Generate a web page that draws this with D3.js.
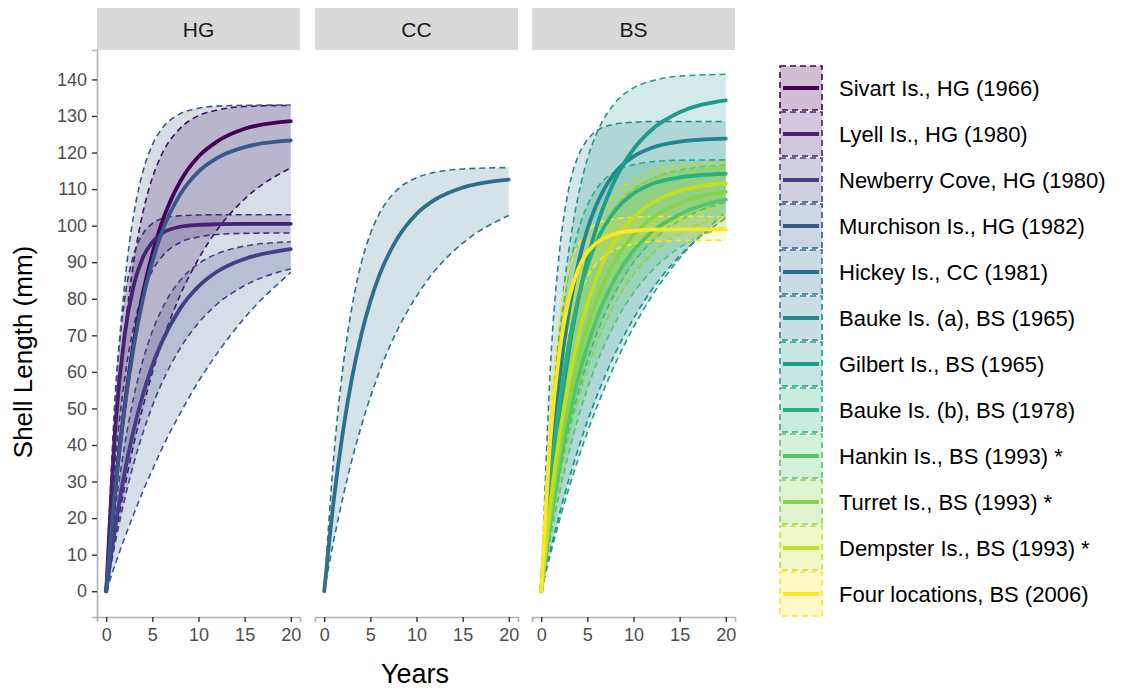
<!DOCTYPE html>
<html>
<head>
<meta charset="utf-8">
<title>Shell growth</title>
<script src="https://d3js.org/d3.v7.min.js"></script>
<style>
    body { margin: 0; background: #ffffff; }
    svg { font-family: "Liberation Sans", Arial, sans-serif; }
</style>
</head>
<body>
<svg id="chart" width="1123" height="688"></svg>
<script>
var ages = [0, 1, 2, 3, 4, 5, 6, 8, 10, 12, 15, 20]
var panels = ["HG", "CC", "BS"]
var sites = [
    "Sivart Is., HG (1966)", "Lyell Is., HG (1980)", "Newberry Cove, HG (1980)",
    "Murchison Is., HG (1982)", "Hickey Is., CC (1981)", "Bauke Is. (a), BS (1965)",
    "Gilbert Is., BS (1965)", "Bauke Is. (b), BS (1978)", "Hankin Is., BS (1993) *",
    "Turret Is., BS (1993) *", "Dempster Is., BS (1993) *", "Four locations, BS (2006)"
]
var sitePanel = ["HG", "HG", "HG", "HG", "CC", "BS", "BS", "BS", "BS", "BS", "BS", "BS"]

// shell length (mm), one row per site, one value per age
var meanLen = [
    [0, 28.6, 50.9, 68.4, 81.8, 92.3, 100.6, 112.0, 118.9, 123.0, 126.5, 128.6],
    [0, 45.3, 70.2, 83.9, 91.4, 95.5, 97.8, 99.7, 100.2, 100.4, 100.5, 100.5],
    [0, 18.0, 32.6, 44.4, 54.0, 61.8, 68.0, 77.3, 83.4, 87.4, 90.9, 93.6],
    [0, 28.4, 50.2, 67.2, 80.2, 90.1, 98.0, 108.5, 114.8, 118.5, 121.5, 123.3],
    [0, 24.2, 43.2, 58.2, 70.0, 79.3, 86.6, 96.8, 103.2, 107.1, 110.4, 112.6],
    [0, 34.0, 58.7, 76.5, 89.5, 99.0, 105.8, 114.5, 118.9, 121.3, 123.0, 123.8],
    [0, 26.8, 48.4, 65.7, 79.6, 90.7, 99.7, 112.6, 120.9, 126.3, 131.0, 134.3],
    [0, 29.7, 51.6, 67.9, 80.0, 89.0, 95.6, 104.1, 108.8, 111.4, 113.2, 114.2],
    [0, 18.9, 34.6, 47.5, 58.3, 67.1, 74.5, 85.5, 93.1, 98.3, 103.1, 107.1],
    [0, 21.0, 38.1, 51.8, 63.0, 72.2, 79.5, 90.4, 97.5, 102.1, 106.2, 109.3],
    [0, 24.0, 42.9, 57.7, 69.4, 78.6, 85.8, 96.0, 102.3, 106.2, 109.5, 111.6],
    [0, 41.9, 66.0, 80.0, 88.0, 92.7, 95.3, 97.8, 98.6, 98.9, 99.0, 99.0]
]
var lowLen = [
    [0, 15.3, 28.6, 40.4, 50.6, 59.8, 67.8, 80.9, 90.9, 98.8, 107.3, 115.8],
    [0, 35.5, 58.1, 72.6, 81.8, 87.7, 91.4, 95.4, 96.9, 97.6, 97.9, 98.0],
    [0, 13.6, 25.2, 35.1, 43.5, 50.7, 56.8, 66.4, 73.4, 78.5, 83.6, 88.2],
    [0, 7.6, 14.6, 21.2, 27.5, 33.2, 38.8, 48.6, 57.4, 65.0, 74.8, 87.2],
    [0, 13.5, 25.4, 35.9, 45.0, 53.1, 60.2, 71.8, 80.7, 87.7, 95.2, 102.8],
    [0, 11.2, 21.4, 30.6, 38.9, 46.4, 53.2, 65.0, 74.6, 82.5, 91.7, 102.1],
    [0, 10.2, 19.6, 28.2, 36.2, 43.5, 50.2, 62.1, 72.2, 80.8, 91.1, 103.7],
    [0, 17.2, 31.7, 44.0, 54.2, 63.0, 70.3, 81.7, 89.9, 95.7, 101.4, 106.4],
    [0, 14.6, 27.2, 38.0, 47.4, 55.4, 62.3, 73.4, 81.6, 87.7, 94.0, 99.8],
    [0, 16.5, 30.5, 42.4, 52.3, 60.7, 67.7, 78.8, 86.6, 92.2, 97.7, 102.5],
    [0, 19.4, 35.3, 48.3, 59.0, 67.6, 74.8, 85.4, 92.6, 97.3, 101.7, 105.1],
    [0, 34.8, 56.9, 71.1, 80.2, 85.9, 89.6, 93.4, 94.9, 95.6, 95.9, 96.0]
]
var highLen = [
    [0, 42.0, 70.8, 90.4, 103.9, 113.1, 119.4, 126.6, 130.1, 131.6, 132.6, 132.9],
    [0, 54.4, 80.0, 92.2, 97.9, 100.6, 101.9, 102.7, 102.9, 103.0, 103.0, 103.0],
    [0, 22.8, 40.0, 53.3, 63.4, 71.1, 77.0, 85.0, 89.6, 92.3, 94.4, 95.6],
    [0, 52.3, 84.1, 103.3, 115.0, 122.1, 126.4, 130.6, 132.1, 132.7, 132.9, 133.0],
    [0, 35.8, 60.7, 77.7, 89.6, 97.8, 103.4, 110.0, 113.1, 114.6, 115.5, 115.9],
    [0, 61.4, 93.4, 110.3, 119.0, 123.5, 125.9, 127.8, 128.3, 128.5, 128.5, 128.5],
    [0, 42.7, 72.6, 93.4, 108.0, 118.2, 125.2, 133.6, 137.7, 139.6, 140.9, 141.4],
    [0, 42.7, 70.0, 87.4, 98.5, 105.6, 110.1, 114.8, 116.7, 117.5, 117.9, 118.0],
    [0, 28.5, 50.2, 66.5, 78.9, 88.1, 95.2, 104.6, 109.9, 112.9, 115.2, 116.6],
    [0, 30.0, 52.3, 68.8, 81.1, 90.1, 96.9, 105.4, 110.2, 112.9, 114.7, 115.7],
    [0, 32.2, 55.6, 72.5, 84.8, 93.8, 100.2, 108.5, 112.7, 115.0, 116.5, 117.3],
    [0, 49.0, 74.5, 87.9, 94.9, 98.5, 100.5, 101.9, 102.3, 102.5, 102.5, 102.5]
]
var xTicks = [0, 5, 10, 15, 20]
var yTicks = d3.range(0, 141, 10)

var svg = d3.select("#chart")

var panelLeft = [97, 315, 532]
var panelW = 203
var panelTop = 50, panelBottom = 617

var color = d3.scaleOrdinal()
    .domain(sites)
    .range(sites.map(function(d, i) { return d3.interpolateViridis(i / (sites.length - 1)) }))

var y = d3.scaleLinear().domain([-7.05, 148.05]).range([panelBottom, panelTop])

var dash = "6,4"
var tickFont = 18

panels.forEach(function(p, pi) {
    var x = d3.scaleLinear().domain([-1, 21]).range([panelLeft[pi], panelLeft[pi] + panelW])

    // strip
    svg.append("rect")
        .attr("x", panelLeft[pi]).attr("y", 8)
        .attr("width", panelW).attr("height", 42)
        .attr("fill", "#d9d9d9")
    svg.append("text")
        .attr("x", panelLeft[pi] + panelW / 2).attr("y", 37)
        .attr("text-anchor", "middle")
        .attr("font-size", 21)
        .attr("fill", "#1a1a1a")
        .text(p)

    var g = svg.append("g")
    var idx = d3.range(sites.length).filter(function(i) { return sitePanel[i] == p })

    var area = d3.area()
        .x(function(d, j) { return x(ages[j]) })
        .y0(function(d) { return y(d[0]) })
        .y1(function(d) { return y(d[1]) })
        .curve(d3.curveMonotoneX)
    var line = d3.line()
        .x(function(d, j) { return x(ages[j]) })
        .y(function(d) { return y(d) })
        .curve(d3.curveMonotoneX)

    idx.forEach(function(i) {
        var band = lowLen[i].map(function(v, j) { return [v, highLen[i][j]] })
        g.append("path")
            .attr("d", area(band))
            .attr("fill", color(sites[i]))
            .attr("fill-opacity", 0.2)
        ;[lowLen[i], highLen[i]].forEach(function(edge) {
            g.append("path")
                .attr("d", line(edge))
                .attr("fill", "none")
                .attr("stroke", color(sites[i]))
                .attr("stroke-width", 1.6)
                .attr("stroke-dasharray", dash)
        })
    })
    idx.forEach(function(i) {
        g.append("path")
            .attr("d", line(meanLen[i]))
            .attr("fill", "none")
            .attr("stroke", color(sites[i]))
            .attr("stroke-width", 3.8)
            .attr("stroke-linecap", "round")
    })

    // x axis
    var xa = svg.append("g")
        .attr("transform", "translate(0," + panelBottom + ")")
        .call(d3.axisBottom(x).tickValues(xTicks).tickSize(5).tickPadding(6))
    xa.select(".domain").attr("stroke", "#b0b0b0").attr("stroke-width", 1.6)
    xa.selectAll(".tick line").attr("stroke", "#333333").attr("stroke-width", 1.4)
    xa.selectAll(".tick text").attr("fill", "#4d4d4d").attr("font-size", tickFont)
        .attr("font-family", "Liberation Sans, Arial, sans-serif")

    if (pi == 0) {
        var ya = svg.append("g")
            .attr("transform", "translate(" + panelLeft[0] + ",0)")
            .call(d3.axisLeft(y).tickValues(yTicks).tickSize(5).tickPadding(5))
        ya.select(".domain").attr("stroke", "#b0b0b0").attr("stroke-width", 1.6)
        ya.selectAll(".tick line").attr("stroke", "#333333").attr("stroke-width", 1.4)
        ya.selectAll(".tick text").attr("fill", "#4d4d4d").attr("font-size", tickFont)
            .attr("font-family", "Liberation Sans, Arial, sans-serif")
    }
})

// axis titles
svg.append("text")
    .attr("transform", "translate(32,352) rotate(-90)")
    .attr("text-anchor", "middle")
    .attr("font-size", 26)
    .attr("fill", "#000")
    .text("Shell Length (mm)")
svg.append("text")
    .attr("x", 415).attr("y", 683)
    .attr("text-anchor", "middle")
    .attr("font-size", 27)
    .attr("fill", "#000")
    .text("Years")

// legend
var keyTop = 65, keyH = 46, keyX = 779, keyW = 44
var leg = svg.append("g").selectAll("g")
    .data(sites)
    .enter().append("g")
    .attr("transform", function(d, i) { return "translate(" + keyX + "," + (keyTop + i * keyH) + ")" })
leg.append("rect")
    .attr("x", 1).attr("y", 1)
    .attr("width", keyW - 2).attr("height", keyH - 2)
    .attr("fill", function(d) { return color(d) })
    .attr("fill-opacity", 0.25)
    .attr("stroke", function(d) { return color(d) })
    .attr("stroke-width", 1.6)
    .attr("stroke-dasharray", dash)
leg.append("line")
    .attr("x1", 4).attr("x2", keyW - 4)
    .attr("y1", keyH / 2).attr("y2", keyH / 2)
    .attr("stroke", function(d) { return color(d) })
    .attr("stroke-width", 3.8)
leg.append("text")
    .attr("x", 60).attr("y", keyH / 2 + 8)
    .attr("font-size", 22)
    .attr("fill", "#000")
    .text(function(d) { return d })
</script>
</body>
</html>
